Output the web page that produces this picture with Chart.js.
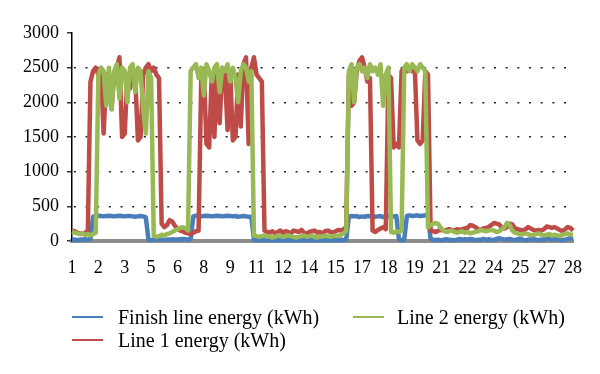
<!DOCTYPE html>
<html>
<head>
<meta charset="utf-8">
<script src="https://cdn.jsdelivr.net/npm/chart.js@4.4.0/dist/chart.umd.min.js"></script>
<style>
  body { margin: 0; background: #fff; }
  #wrap { position: relative; width: 600px; height: 374px; }
  .leg { position: absolute; height: 20px; font: 20px 'Liberation Serif', serif; line-height: 20px; color: #000; white-space: nowrap; }
  .leg i { position: absolute; left: 0; top: 9px; width: 31px; height: 2px; }
  .leg span { position: absolute; top: 0; }
</style>
</head>
<body>
<div id="wrap">
  <canvas id="energyChart" width="600" height="374"></canvas>
  <div class="leg" style="left:72px; top:307px;"><i style="background:#4a7ebb"></i><span style="left:46px">Finish line energy (kWh)</span></div>
  <div class="leg" style="left:353px; top:307px;"><i style="background:#98b954"></i><span style="left:44px">Line 2 energy (kWh)</span></div>
  <div class="leg" style="left:72px; top:330px;"><i style="background:#be4b48"></i><span style="left:46px">Line 1 energy (kWh)</span></div>
</div>
<script>
// x labels shown under the axis (one per tick)
const tickLabels = ['1', '2', '3', '5', '6', '8', '9', '11', '12', '14', '15', '17', '18', '19', '21', '22', '24', '25', '27', '28'];
// 10 samples between two labels
const step = 0.1;

const finishLine = [
    20, 20, 15, 20, 20, 25, 20, 30,
    350, 360, 365, 360, 355, 360, 365, 360, 355, 360, 365, 360, 355, 360, 360, 355, 350, 355, 360, 355,
    340,
    20, 15, 20, 20, 25, 20, 15, 20, 20, 25, 20, 20, 25, 30, 25, 20, 30,
    355, 365, 360, 355, 360, 365, 360, 355, 360, 365, 360, 355, 360, 365, 360, 355, 360, 350, 355, 360, 355, 350, 345,
    20, 10, 15, 10, 20, 10, 15, 10, 10, 15, 10, 15, 10, 10, 15, 10, 10, 15, 20, 10, 15, 10, 10, 15, 10, 20, 15, 10, 10, 15, 10, 15, 10, 20, 15, 20,
    350, 360, 355, 360, 345, 355, 350, 360, 355, 360, 350, 355, 360, 345, 355, 360, 350, 355, 360,
    20, 15, 20,
    360, 370, 360, 365, 370, 360, 365, 370, 360,
    30, 20, 15, 20, 10, 20, 25, 20, 15, 10, 20, 30, 20, 25, 20, 30, 25, 10, 20, 15, 30, 20, 25, 15, 20, 30, 40, 30,
    20, 25, 30, 20, 15, 25, 30, 20, 10, 20, 25, 30, 20, 15, 20, 25, 30, 35, 20, 25, 30, 20, 15, 20, 30, 40, 30
];

const line1 = [
    150, 140, 120, 110, 100, 120, 150,
    2300, 2450, 2500, 2400, 2450, 1550, 2400, 2300, 1900, 2400, 2500, 2650, 1500, 1550, 2400, 2200, 2450, 2350, 1450, 1500,
    2400, 2500, 2550, 2450, 2500, 2400, 2350,
    250, 200, 230, 300, 280, 220, 180, 150, 140, 120, 110, 100, 120, 140, 150,
    2300, 2450, 1400, 1350, 2400, 1500, 2450, 1700, 2500, 2400, 1600, 2450, 1450, 1500, 2400, 1650, 2550, 2650, 1400, 2500,
    2650, 2400, 2350, 2300,
    150, 130, 120, 140, 110, 130, 150, 120, 140, 130, 110, 150, 140, 130, 160, 120, 110, 130, 140, 150, 120, 130, 110, 140,
    150, 130, 120, 140, 160, 150, 170, 200,
    2400, 1950, 2000, 2450, 2600, 2650, 2500, 2300, 2350,
    150, 130, 160, 180, 200, 170,
    2400, 2350, 1350, 1400, 1350, 2450, 2500, 2450, 2500, 2450, 2500, 1450, 1400, 1450, 2450, 2400,
    150, 140, 130, 150, 160, 150, 160, 170, 160, 150, 170, 160, 170, 180, 190, 230, 220, 200, 170, 160, 180, 190, 200, 230,
    260, 250, 240, 190, 180, 200, 250, 240, 180, 170, 160, 150, 170, 200, 180, 160, 150, 160, 150, 170, 210, 200, 190, 200,
    180, 160, 140, 170, 200, 190, 150
];

const line2 = [
    130, 120, 110, 100, 110, 90, 100, 80, 100, 120,
    2400, 2500, 2450, 1950, 2500, 1900, 2450, 2550, 2050, 2500, 2450, 2000, 2500, 2550, 2150, 2500, 2450, 1900, 1550, 2450,
    2350,
    80, 60, 70, 90, 80, 100, 110, 130, 150, 170, 190, 200, 180, 150,
    2450, 2500, 2550, 2350, 2500, 2100, 2550, 2450, 2300, 2500, 2550, 2150, 2500, 2450, 2550, 2300, 2500, 2350, 2000, 2450,
    2550, 2500, 2300, 2450,
    80, 70, 60, 70, 80, 60, 70, 50, 60, 80, 70, 60, 70, 80, 70, 60, 50, 60, 70, 80, 60, 70, 80, 60, 50, 70, 60, 80, 70, 60,
    70, 80, 70, 90, 110, 150,
    2450, 2550, 2000, 2500, 2550, 2450, 2500, 2350, 2550, 2450, 2500, 2400, 2550, 1950, 2400, 2500,
    130, 120, 140, 130, 150,
    2500, 2550, 2450, 2550, 2500, 2450, 2550, 2500, 2450,
    200, 230, 250, 260, 240, 180, 150, 130, 140, 150, 130, 120, 130, 140, 120, 130, 110, 120, 130, 140, 160, 150, 140, 150,
    160, 150, 130, 140, 170, 200, 260, 230, 150, 120, 110, 90, 100, 110, 100, 80, 90, 100, 110, 90, 80, 90, 100, 80,
    90, 80, 70, 90, 100, 110, 90, 90
];

function toPoints(values) {
    return values.map((v, i) => ({ x: i * step, y: v }));
}

document.addEventListener('DOMContentLoaded', function () {
    const ctx = document.getElementById('energyChart').getContext('2d');
    const tickFont = { family: "'Liberation Serif', serif", size: 18 };

    new Chart(ctx, {
        type: 'line',
        data: {
            datasets: [
                { label: 'Finish line energy (kWh)', data: toPoints(finishLine), borderColor: '#4a7ebb', order: 2 },
                { label: 'Line 1 energy (kWh)', data: toPoints(line1), borderColor: '#be4b48', order: 1 },
                { label: 'Line 2 energy (kWh)', data: toPoints(line2), borderColor: '#98b954', order: 0 }
            ]
        },
        options: {
            responsive: false,
            animation: false,
            layout: { padding: { top: 33, right: 27, bottom: 93, left: 0 } },
            elements: {
                point: { radius: 0 },
                line: { borderWidth: 4.5, tension: 0, fill: false, borderJoinStyle: 'round' }
            },
            datasets: { line: { clip: false } },
            plugins: {
                legend: { display: false },
                tooltip: { enabled: false }
            },
            scales: {
                x: {
                    type: 'linear',
                    min: 0,
                    max: tickLabels.length - 1,
                    afterFit: function (scale) { scale.height = 40; },
                    grid: { display: false },
                    border: { display: true, color: '#8c8c8c', width: 4 },
                    ticks: {
                        stepSize: 1,
                        autoSkip: false,
                        maxRotation: 0,
                        padding: 8,
                        color: '#000',
                        font: tickFont,
                        callback: function (value) { return tickLabels[value]; }
                    }
                },
                y: {
                    min: 0,
                    max: 3000,
                    afterFit: function (scale) { scale.width = 72; },
                    grid: {
                        color: function (c) {
                            return (c.tick.value === 0 || c.tick.value === 3000) ? 'rgba(0,0,0,0)' : '#222';
                        },
                        lineWidth: 1.6,
                        tickColor: '#000',
                        tickLength: 5,
                        tickWidth: 1.2
                    },
                    border: { color: '#000', width: 1.5, dash: [2, 9.67], dashOffset: 10.3 },
                    ticks: {
                        stepSize: 500,
                        padding: 8,
                        color: '#000',
                        font: tickFont,
                        callback: function (value) { return String(value); }
                    }
                }
            }
        }
    });
});
</script>
</body>
</html>
